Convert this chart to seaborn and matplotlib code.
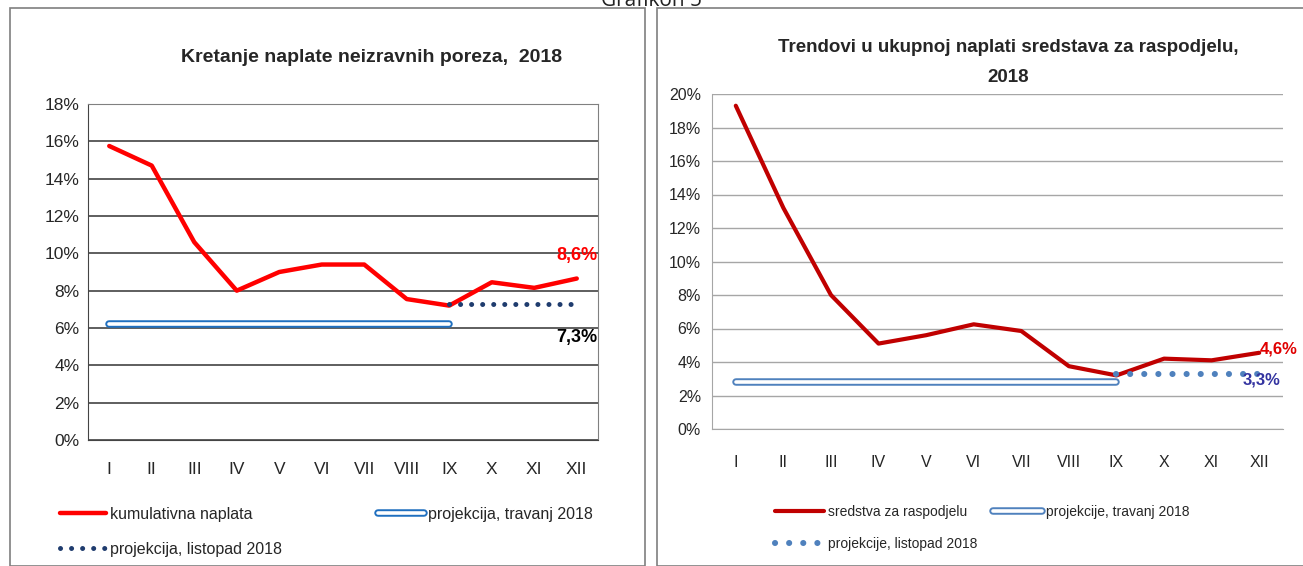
import numpy as np
import pandas as pd
import seaborn as sns
import matplotlib.pyplot as plt
import matplotlib.patheffects as pe
from matplotlib.patches import Rectangle
from matplotlib.ticker import FuncFormatter, MultipleLocator

sns.set_style("white")
plt.rcParams['font.family'] = ['Liberation Sans', 'DejaVu Sans']

months = ["I", "II", "III", "IV", "V", "VI", "VII", "VIII", "IX", "X", "XI", "XII"]

# left chart: indirect taxes, cumulative growth (%)
kumulativna = [15.75, 14.7, 10.6, 8.0, 9.0, 9.4, 9.4, 7.55, 7.2, 8.45, 8.15, 8.65]
travanj_left = [6.2] * 9          # I..IX
listopad_left = [7.3] * 4         # IX..XII

# right chart: funds for distribution (%)
sredstva = [19.3, 13.2, 8.0, 5.1, 5.6, 6.25, 5.85, 3.75, 3.2, 4.2, 4.1, 4.55]
travanj_right = [2.8] * 9
listopad_right = [3.3] * 4

df_l = pd.DataFrame({"mj": months, "v": kumulativna})
df_lt = pd.DataFrame({"mj": months[:9], "v": travanj_left})
df_ll = pd.DataFrame({"mj": months[8:], "v": listopad_left})
df_r = pd.DataFrame({"mj": months, "v": sredstva})
df_rt = pd.DataFrame({"mj": months[:9], "v": travanj_right})
df_rl = pd.DataFrame({"mj": months[8:], "v": listopad_right})

fig = plt.figure(figsize=(13.03, 5.66), dpi=100)
W, H = 1303, 566

def px(x0, y0, x1, y1):
    return [x0 / W, 1 - y1 / H, (x1 - x0) / W, (y1 - y0) / H]

# panel frames
fig.add_artist(Rectangle((10 / W, 0), 635 / W, 1 - 8 / H, transform=fig.transFigure,
                         fill=False, ec="#7f7f7f", lw=1.2))
fig.add_artist(Rectangle((657 / W, 0), 660 / W, 1 - 8 / H, transform=fig.transFigure,
                         fill=False, ec="#7f7f7f", lw=1.2))
fig.text(0.5, 1 - 6 / H, "Grafikon 5", ha="center", va="baseline", fontsize=15,
         family=["Open Sans", "DejaVu Sans"], color="#222222")

pct = FuncFormatter(lambda v, p: f"{v:.0f}%")

# ---------------- left chart
ax1 = fig.add_axes(px(88, 104, 598, 440))
sns.lineplot(data=df_l, x="mj", y="v", ax=ax1, color="#ff0000", lw=3.2, sort=False,
             label="kumulativna naplata", legend=False)
sns.lineplot(data=df_lt, x="mj", y="v", ax=ax1, color="white", lw=2.6, sort=False,
             label="projekcija, travanj 2018", legend=False,
             path_effects=[pe.Stroke(linewidth=5.4, foreground="#1f6fbf"), pe.Normal()])
sns.lineplot(data=df_ll, x="mj", y="v", ax=ax1, color="#1f3c6e", lw=3.6, sort=False,
             linestyle=(0, (0.01, 2.2)), dash_capstyle="round",
             label="projekcija, listopad 2018", legend=False)
ax1.set_xlim(-0.5, 11.5)
ax1.set_ylim(0, 18)
ax1.yaxis.set_major_locator(MultipleLocator(2))
ax1.yaxis.set_major_formatter(pct)
ax1.grid(axis="y", color="#333333", lw=1.1)
for s in ax1.spines.values():
    s.set_color("#808080")
ax1.spines["left"].set_color("#444444")
ax1.spines["bottom"].set_color("#444444")
ax1.set_xlabel("")
ax1.set_ylabel("")
ax1.set_xticks(np.arange(-0.5, 12, 1), minor=True)
ax1.tick_params(axis="x", which="major", length=0, pad=16, labelsize=12.5)
ax1.tick_params(axis="x", which="minor", length=5, color="#444444", direction="out")
ax1.tick_params(axis="y", length=5, color="#444444", direction="out", labelsize=12.5, pad=1)
ax1.set_axisbelow(True)
ax1.text(11, 9.9, "8,6%", color="#ff0000", ha="center", va="center", fontsize=13,
         fontweight="bold")
ax1.text(11, 5.5, "7,3%", color="black", ha="center", va="center", fontsize=13,
         fontweight="bold")
fig.text(372 / W, 1 - 57 / H, "Kretanje naplate neizravnih poreza,  2018", ha="center",
         va="center", fontsize=14, fontweight="bold")
h1 = ax1.get_lines()
fig.legend([h1[0], h1[2], h1[1]], [l.get_label() for l in (h1[0], h1[2], h1[1])],
           loc="upper left", bbox_to_anchor=(60 / W, 1 - 507 / H), ncol=2, frameon=False,
           handlelength=2.9, handletextpad=0.25, columnspacing=6.0,
           labelspacing=1.25, borderpad=0, borderaxespad=0,
           prop={"size": 11.5})

# ---------------- right chart
ax2 = fig.add_axes(px(712, 94, 1283, 429))
sns.lineplot(data=df_r, x="mj", y="v", ax=ax2, color="#c00000", lw=3.0, sort=False,
             label="sredstva za raspodjelu", legend=False)
sns.lineplot(data=df_rt, x="mj", y="v", ax=ax2, color="white", lw=2.6, sort=False,
             label="projekcije, travanj 2018", legend=False,
             path_effects=[pe.Stroke(linewidth=5.4, foreground="#4f81bd"), pe.Normal()])
sns.lineplot(data=df_rl, x="mj", y="v", ax=ax2, color="#4f81bd", lw=4.4, sort=False,
             linestyle=(0, (0.01, 2.3)), dash_capstyle="round",
             label="projekcije, listopad 2018", legend=False)
ax2.set_xlim(-0.5, 11.5)
ax2.set_ylim(0, 20)
ax2.yaxis.set_major_locator(MultipleLocator(2))
ax2.yaxis.set_major_formatter(pct)
ax2.grid(axis="y", color="#a6a6a6", lw=1.0)
ax2.spines["top"].set_visible(False)
ax2.spines["right"].set_visible(False)
ax2.spines["left"].set_color("#a6a6a6")
ax2.spines["bottom"].set_color("#a6a6a6")
ax2.set_xlabel("")
ax2.set_ylabel("")
ax2.set_xticks(np.arange(-0.5, 12, 1), minor=True)
ax2.tick_params(axis="x", which="major", length=0, pad=19, labelsize=11.5)
ax2.tick_params(axis="x", which="minor", length=5, color="#a6a6a6", direction="out")
ax2.tick_params(axis="y", length=5, color="#a6a6a6", direction="out", labelsize=11.5, pad=3)
ax2.set_axisbelow(True)
ax2.text(11.02, 4.75, "4,6%", color="#e00000", ha="left", va="center", fontsize=12,
         fontweight="bold", clip_on=False)
ax2.text(11.05, 2.9, "3,3%", color="#3333a0", ha="center", va="center", fontsize=12,
         fontweight="bold")
fig.text(1008 / W, 1 - 47 / H, "Trendovi u ukupnoj naplati sredstava za raspodjelu,",
         ha="center", va="center", fontsize=13.5, fontweight="bold")
fig.text(1008 / W, 1 - 78 / H, "2018", ha="center", va="center", fontsize=13.5,
         fontweight="bold")
h2 = ax2.get_lines()
fig.legend([h2[0], h2[2], h2[1]], [l.get_label() for l in (h2[0], h2[2], h2[1])],
           loc="upper left", bbox_to_anchor=(775 / W, 1 - 505 / H), ncol=2, frameon=False,
           handlelength=3.5, handletextpad=0.3, columnspacing=1.15,
           labelspacing=1.3, borderpad=0, borderaxespad=0,
           prop={"size": 10})

fig.savefig("out.png", dpi=100)
